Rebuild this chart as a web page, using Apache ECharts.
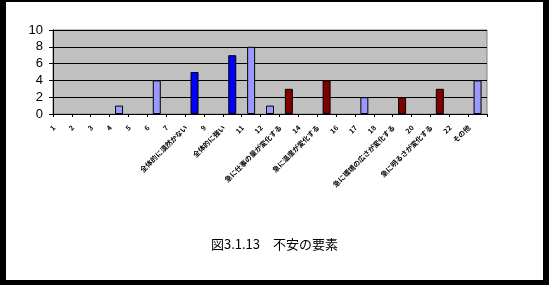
<!DOCTYPE html>
<html><head><meta charset="utf-8">
<script src="https://cdn.jsdelivr.net/npm/echarts@6/dist/echarts.min.js"></script>
<style>html,body{margin:0;padding:0;background:#fff}#c{width:549px;height:285px}</style>
</head><body><div id="c"></div>
<script>
var categories = ['1','2','3','4','5','6','7','全体的に漠然かない','9','全体的に強い','11','12','急に仕事の量が変化する','14','急に温度が変化する','16','17','18','急に環境の広さが変化する','20','急に明るさが変化する','22','その他'];
var lightValues = [null,null,null,1,null,4,null,null,null,null,8,1,null,null,null,null,2,null,null,null,null,null,4];
var blueValues  = [null,null,null,null,null,null,null,5,null,7,null,null,null,null,null,null,null,null,null,null,null,null,null];
var redValues   = [null,null,null,null,null,null,null,null,null,null,null,null,3,null,4,null,null,null,2,null,3,null,null];
var yTicks = [0,2,4,6,8,10];
var title = '図3.1.13　不安の要素';

var chart = echarts.init(document.getElementById('c'), null, {renderer:'canvas'});
function barSeries(name, data, color){
  return {name:name, type:'bar', stack:'all', data:data, barWidth:8,
    itemStyle:{color:color, borderColor:'#000', borderWidth:1}, animation:false};
}
chart.setOption({
  animation:false,
  backgroundColor:'#fff',
  graphic:[
    {type:'rect', shape:{x:0,y:0,width:6,height:285}, style:{fill:'#000'}},
    {type:'rect', shape:{x:543,y:0,width:6,height:285}, style:{fill:'#000'}},
    {type:'rect', shape:{x:0,y:0,width:549,height:2}, style:{fill:'#000'}},
    {type:'rect', shape:{x:0,y:280,width:549,height:5}, style:{fill:'#000'}},
    {type:'text', left:'center', top:238, style:{text:title, font:'13px "Noto Sans CJK JP"', fill:'#000'}}
  ],
  grid:{left:53, right:62, top:30, bottom:171, show:true, backgroundColor:'#C0C0C0', borderColor:'#808080', borderWidth:1},
  xAxis:{type:'category', data:categories,
    axisLine:{lineStyle:{color:'#000', width:1}},
    axisTick:{show:true, length:3, lineStyle:{color:'#000'}},
    axisLabel:{interval:0, rotate:45, margin:4, padding:[0,12,0,0], fontSize:7, fontWeight:'bold', color:'#000', fontFamily:'"Noto Sans CJK JP"'}
  },
  yAxis:{type:'value', min:0, max:10, interval:2,
    axisLine:{show:true, lineStyle:{color:'#000'}},
    axisTick:{show:true, length:4, lineStyle:{color:'#000'}},
    axisLabel:{fontSize:13, color:'#000', margin:10, fontFamily:'"Liberation Sans"',
      formatter:function(v){return yTicks.indexOf(v)>=0?String(v):'';}},
    splitLine:{show:true, lineStyle:{color:'#000', width:1}}
  },
  series:[
    barSeries('light', lightValues, '#9999FF'),
    barSeries('blue', blueValues, '#0000FF'),
    barSeries('red', redValues, '#800000')
  ]
});
</script></body></html>
